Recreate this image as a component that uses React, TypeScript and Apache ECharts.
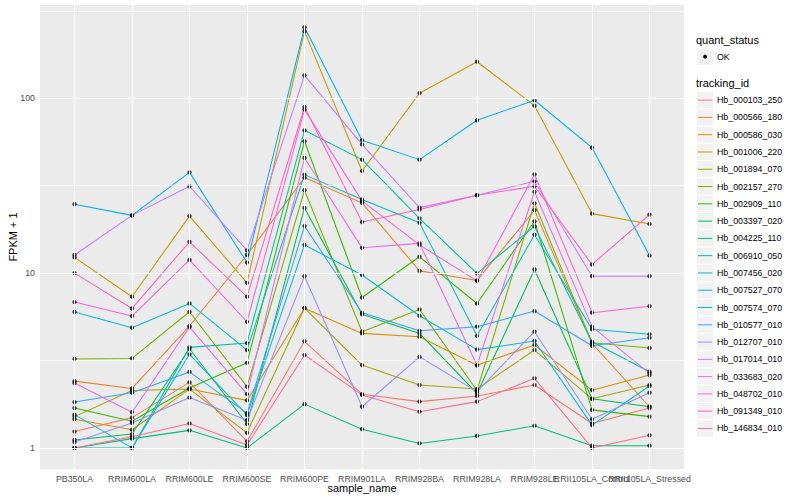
import React, { useEffect, useRef } from "react";
import * as echarts from "echarts";

const sampleNames = [
  "PB350LA", "RRIM600LA", "RRIM600LE", "RRIM600SE", "RRIM600PE", "RRIM901LA",
  "RRIM928BA", "RRIM928LA", "RRIM928LE", "RRII105LA_Control", "RRII105LA_Stressed",
];
const yMajorTicks = [1, 10, 100];
const yMinorTicks = [3.1623, 31.623, 316.23];

const trackingIds = [
  "Hb_000103_250", "Hb_000566_180", "Hb_000586_030", "Hb_001006_220", "Hb_001894_070",
  "Hb_002157_270", "Hb_002909_110", "Hb_003397_020", "Hb_004225_110", "Hb_006910_050",
  "Hb_007456_020", "Hb_007527_070", "Hb_007574_070", "Hb_010577_010", "Hb_012707_010",
  "Hb_017014_010", "Hb_033683_020", "Hb_048702_010", "Hb_091349_010", "Hb_146834_010",
];
const trackingColors = [
  "#F8766D", "#EA8331", "#D89000", "#C09B00", "#A3A500", "#7CAE00", "#39B600", "#00BB4E",
  "#00BF7D", "#00C1A3", "#00BFC4", "#00BAE0", "#00B0F6", "#35A2FF", "#9590FF", "#C77CFF",
  "#E76BF3", "#FA62DB", "#FF62BC", "#FF6C91",
];

// FPKM + 1 per sample (same order as sampleNames)
const hb_000103_250 = [1.24, 1.49, 2.37, 1.09, 4.07, 2.03, 1.84, 1.98, 2.29, 1.38, 1.69];
const hb_000566_180 = [2.41, 2.19, 4.98, 12.7, 35.2, 25.2, 10.3, 9.08, 22.9, 3.96, 1.72];
const hb_000586_030 = [1.46, 1.27, 2.17, 1.87, 6.3, 4.52, 4.33, 2.97, 3.88, 2.14, 2.61];
const hb_001006_220 = [12.3, 7.33, 21.2, 8.8, 241.5, 38.4, 107, 162, 90.8, 21.9, 19.1];
const hb_001894_070 = [1.51, 2.13, 2.17, 1.22, 6.3, 2.98, 2.29, 2.17, 3.63, 1.91, 2.29];
const hb_002157_270 = [3.23, 3.25, 6.01, 2.24, 29.8, 4.62, 6.2, 2.13, 25.1, 4.0, 3.73];
const hb_002909_110 = [1.69, 1.42, 2.2, 3.07, 56.8, 7.25, 12.4, 6.7, 19.8, 1.65, 1.51];
const hb_003397_020 = [1.11, 1.2, 3.69, 1.37, 23.6, 5.81, 4.52, 2.05, 10.5, 1.91, 1.72];
const hb_004225_110 = [1.0, 1.13, 1.26, 1.0, 1.78, 1.28, 1.06, 1.17, 1.34, 1.03, 1.03];
const hb_006910_050 = [1.0, 1.0, 3.76, 3.98, 65.6, 44.6, 20.6, 9.96, 18.5, 4.05, 2.73];
const hb_007456_020 = [6.0, 4.87, 6.71, 3.63, 36.6, 26.4, 19.4, 4.38, 16.6, 4.77, 4.47];
const hb_007527_070 = [1.55, 1.0, 3.43, 1.54, 14.5, 9.75, 5.7, 3.65, 4.09, 1.35, 2.26];
const hb_007574_070 = [24.8, 21.4, 37.7, 11.5, 255, 57.6, 44.6, 74.9, 97.5, 52.3, 12.6];
const hb_010577_010 = [1.83, 2.07, 2.72, 1.58, 18.6, 5.93, 4.68, 4.94, 6.07, 3.84, 4.27];
const hb_012707_010 = [1.08, 1.39, 1.94, 1.44, 9.6, 1.72, 3.32, 2.1, 4.62, 1.46, 2.07];
const hb_017014_010 = [12.7, 21.4, 31.4, 13.5, 135.3, 54.5, 23.7, 27.9, 33.5, 9.6, 9.6];
const hb_033683_020 = [2.35, 1.6, 4.91, 2.03, 45.6, 13.95, 14.8, 2.97, 29.2, 4.94, 2.67];
const hb_048702_010 = [6.83, 5.68, 11.9, 5.27, 86.2, 25.9, 14.5, 9.03, 36.7, 5.94, 6.47];
const hb_091349_010 = [10.0, 6.28, 15.1, 7.33, 89.2, 19.6, 23.1, 27.9, 31.4, 11.2, 21.6];
const hb_146834_010 = [1.0, 1.16, 1.38, 1.04, 3.4, 2.01, 1.61, 1.84, 2.5, 1.0, 1.18];

const seriesValues = [
  hb_000103_250, hb_000566_180, hb_000586_030, hb_001006_220, hb_001894_070,
  hb_002157_270, hb_002909_110, hb_003397_020, hb_004225_110, hb_006910_050,
  hb_007456_020, hb_007527_070, hb_007574_070, hb_010577_010, hb_012707_010,
  hb_017014_010, hb_033683_020, hb_048702_010, hb_091349_010, hb_146834_010,
];

const FONT = "Liberation Sans, Arial, Helvetica, sans-serif";

export default function App() {
  const ref = useRef<HTMLDivElement>(null);
  useEffect(() => {
    if (!ref.current) return;
    const chart = echarts.init(ref.current, undefined, { renderer: "svg" });
    const L = Math.log10;
    const plotLeft = 40, plotTop = 5, plotW = 644, plotH = 464;
    const yMin = -0.1207, yMax = 2.534;

    const lineSeries: any[] = seriesValues.map((vals, k) => ({
      type: "line",
      name: trackingIds[k],
      data: vals.map((v, i) => [i, L(v)]),
      showSymbol: false,
      silent: true,
      z: 2,
      lineStyle: { color: trackingColors[k], width: 1.05 },
    }));

    const pts: number[][] = [];
    seriesValues.forEach((vals) => vals.forEach((v, i) => pts.push([i, L(v)])));

    const gridLineData: any[] = [];
    sampleNames.forEach((_, i) =>
      gridLineData.push({ xAxis: i, lineStyle: { color: "#FFFFFF", width: 1.1, type: "solid" } })
    );
    yMajorTicks.forEach((t) =>
      gridLineData.push({ yAxis: L(t), lineStyle: { color: "#FFFFFF", width: 1.1, type: "solid" } })
    );
    yMinorTicks.forEach((t) =>
      gridLineData.push({ yAxis: L(t), lineStyle: { color: "#FFFFFF", width: 0.55, type: "solid" } })
    );

    const legendX = 696.5;
    const keySize = 17.28;
    const trackTop = 91.5;
    const graphics: any[] = [
      {
        type: "text", left: 696, top: 34,
        style: { text: "quant_status", font: `11px ${FONT}`, fill: "#000" },
      },
      {
        type: "rect", shape: { x: legendX, y: 48, width: keySize, height: keySize },
        style: { fill: "#F2F2F2", stroke: "#FFFFFF", lineWidth: 1 },
      },
      { type: "circle", shape: { cx: legendX + keySize / 2, cy: 48 + keySize / 2, r: 2 }, style: { fill: "#000" } },
      {
        type: "text", x: 717, y: 48 + keySize / 2,
        style: { text: "OK", font: `8.8px ${FONT}`, fill: "#000", verticalAlign: "middle" },
      },
      {
        type: "text", left: 696, top: 77,
        style: { text: "tracking_id", font: `11px ${FONT}`, fill: "#000" },
      },
      {
        type: "text", x: 13, y: plotTop + plotH / 2, rotation: Math.PI / 2,
        style: { text: "FPKM + 1", font: `11px ${FONT}`, fill: "#000", align: "center", verticalAlign: "middle" },
      },
      {
        type: "text", x: plotLeft + plotW / 2, y: 488,
        style: { text: "sample_name", font: `11px ${FONT}`, fill: "#000", align: "center", verticalAlign: "middle" },
      },
    ];
    trackingIds.forEach((id, k) => {
      const y0 = trackTop + k * keySize;
      graphics.push({
        type: "rect", shape: { x: legendX, y: y0, width: keySize, height: keySize },
        style: { fill: "#F2F2F2", stroke: "#FFFFFF", lineWidth: 1 },
      });
      graphics.push({
        type: "line", shape: { x1: legendX + 1.5, y1: y0 + keySize / 2, x2: legendX + keySize - 1.5, y2: y0 + keySize / 2 },
        style: { stroke: trackingColors[k], lineWidth: 1 },
      });
      graphics.push({
        type: "text", x: 717, y: y0 + keySize / 2,
        style: { text: id, font: `8.8px ${FONT}`, fill: "#000", verticalAlign: "middle" },
      });
    });

    const evenIdx = sampleNames.map((_, i) => i).filter((i) => i % 2 === 0);
    const oddIdx = sampleNames.map((_, i) => i).filter((i) => i % 2 === 1);
    const makeX = (idx: number[], tick: boolean) => ({
      type: "value", min: -0.6, max: 10.6, position: "bottom", offset: 0,
      axisLine: { show: false },
      splitLine: { show: false },
      axisTick: {
        show: tick, length: 3, customValues: sampleNames.map((_, i) => i),
        lineStyle: { color: "#333333", width: 1 },
      },
      axisLabel: {
        customValues: idx,
        formatter: (v: number) => sampleNames[Math.round(v)] ?? "",
        showMinLabel: true, showMaxLabel: true, hideOverlap: false,
        color: "#4D4D4D", fontSize: 8.8, margin: 5, fontFamily: FONT,
      },
    });

    chart.setOption({
      animation: false,
      backgroundColor: "#FFFFFF",
      textStyle: { fontFamily: FONT },
      grid: {
        left: plotLeft, top: plotTop, width: plotW, height: plotH,
        show: true, backgroundColor: "#EBEBEB", borderWidth: 0,
      },
      xAxis: [makeX(evenIdx, true), makeX(oddIdx, false)],
      yAxis: {
        type: "value", min: yMin, max: yMax,
        axisLine: { show: false },
        splitLine: { show: false },
        axisTick: {
          show: true, length: 3, customValues: yMajorTicks.map((t) => L(t)),
          lineStyle: { color: "#333333", width: 1 },
        },
        axisLabel: {
          customValues: yMajorTicks.map((t) => L(t)),
          formatter: (v: number) => String(Math.round(Math.pow(10, v))),
          showMinLabel: true, showMaxLabel: true,
          color: "#4D4D4D", fontSize: 8.8, margin: 5, fontFamily: FONT,
        },
      },
      graphic: graphics,
      series: [
        {
          type: "line", data: [], z: 1, silent: true, xAxisIndex: 0,
          markLine: {
            silent: true, symbol: ["none", "none"], label: { show: false },
            animation: false, emphasis: { disabled: true },
            data: gridLineData,
          },
        },
        ...lineSeries,
        {
          type: "scatter", data: pts, symbol: "circle", symbolSize: 4.3, z: 3, silent: true,
          itemStyle: { color: "#000000" },
        },
      ],
    });
    return () => chart.dispose();
  }, []);
  return (
    <div
      ref={ref}
      style={{ position: "fixed", left: 0, top: 0, width: 800, height: 500 }}
    />
  );
}
